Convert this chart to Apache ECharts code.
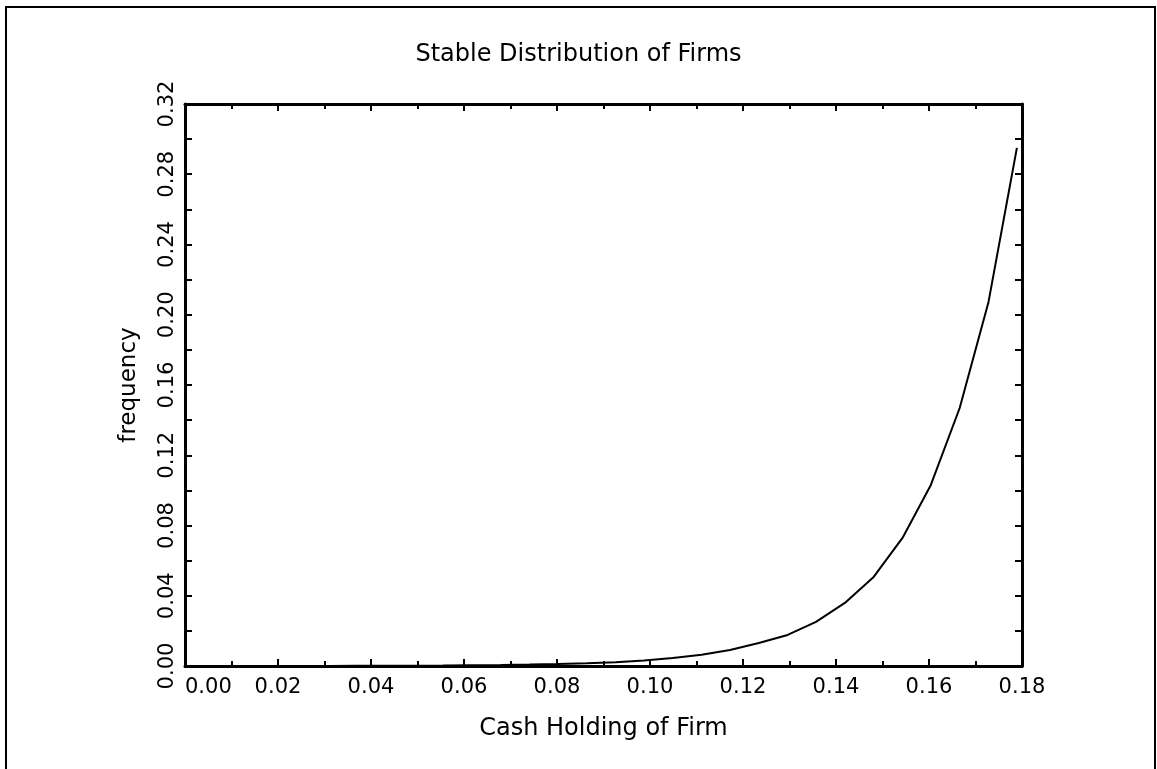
<!DOCTYPE html>
<html>
<head>
<meta charset="utf-8">
<style>
  html, body { margin: 0; padding: 0; background: #fff; }
  #chart { width: 1157px; height: 769px; }
</style>
<script src="https://cdn.jsdelivr.net/npm/echarts@6/dist/echarts.min.js"></script>
</head>
<body>
<div id="chart"></div>
<script>
  // cash holding grid (x) and stable frequency (y)
  var cashHolding = [0, 0.0062, 0.0123, 0.0185, 0.0247, 0.0309, 0.0370, 0.0432, 0.0494, 0.0555,
    0.0617, 0.0679, 0.0741, 0.0802, 0.0864, 0.0926, 0.0987, 0.1049, 0.1111, 0.1172,
    0.1234, 0.1296, 0.1357, 0.1419, 0.1481, 0.1543, 0.1604, 0.1666, 0.1728, 0.1789]
  var frequency = [0.00001, 0.00002, 0.00002, 0.00003, 0.00005, 0.00007, 0.0001, 0.00013, 0.0002, 0.00027,
    0.0004, 0.00055, 0.0008, 0.0011, 0.0016, 0.0022, 0.0032, 0.0045, 0.0064, 0.0091,
    0.0131, 0.0177, 0.0251, 0.0359, 0.0507, 0.0729, 0.1031, 0.1469, 0.2073, 0.295]

  var FONT = 'DejaVu Sans'
  var lineData = cashHolding.map(function(x, i) { return [x, frequency[i]] })

  function xAxisCfg(top) {
    return {
      type: 'value',
      position: top ? 'top' : 'bottom',
      min: 0,
      max: 0.18,
      interval: 0.02,
      axisLine: { show: true, onZero: false, lineStyle: { color: '#000', width: 3 } },
      axisTick: { show: true, inside: true, length: 7, lineStyle: { color: '#000', width: 2 } },
      minorTick: { show: true, splitNumber: 2, length: 5, lineStyle: { color: '#000', width: 2 } },
      splitLine: { show: false },
      axisLabel: {
        show: !top,
        margin: 11,
        color: '#000',
        fontFamily: FONT,
        fontSize: 21,
        alignMinLabel: 'left',
        formatter: function(v) { return v.toFixed(2) }
      },
      name: top ? '' : 'Cash Holding of Firm',
      nameLocation: 'middle',
      nameGap: 51,
      nameTextStyle: { color: '#000', fontFamily: FONT, fontSize: 24 }
    }
  }

  function yAxisCfg(right) {
    return {
      type: 'value',
      position: right ? 'right' : 'left',
      min: 0,
      max: 0.32,
      interval: 0.04,
      axisLine: { show: true, onZero: false, lineStyle: { color: '#000', width: 3 } },
      axisTick: { show: true, inside: true, length: 7, lineStyle: { color: '#000', width: 2 } },
      minorTick: { show: true, splitNumber: 2, length: 7, lineStyle: { color: '#000', width: 2 } },
      splitLine: { show: false },
      axisLabel: {
        show: !right,
        rotate: 90,
        margin: 7,
        color: '#000',
        fontFamily: FONT,
        fontSize: 21,
        formatter: function(v) { return v.toFixed(2) }
      },
      name: right ? '' : 'frequency',
      nameLocation: 'middle',
      nameRotate: 90,
      nameGap: 44,
      nameTextStyle: { color: '#000', fontFamily: FONT, fontSize: 23 }
    }
  }

  var chart = echarts.init(document.getElementById('chart'))
  chart.setOption({
    backgroundColor: '#fff',
    animation: false,
    title: {
      text: 'Stable Distribution of Firms',
      left: 'center',
      top: 38,
      textStyle: { color: '#000', fontFamily: FONT, fontSize: 24, fontWeight: 'normal' }
    },
    graphic: [{
      type: 'rect',
      shape: { x: 6, y: 7, width: 1149, height: 780 },
      style: { fill: null, stroke: '#000', lineWidth: 2 },
      silent: true
    }],
    grid: { left: 185, right: 135, top: 104, bottom: 103, containLabel: false },
    xAxis: [xAxisCfg(false), xAxisCfg(true)],
    yAxis: [yAxisCfg(false), yAxisCfg(true)],
    series: [{
      type: 'line',
      data: lineData,
      showSymbol: false,
      symbol: 'none',
      lineStyle: { color: '#000', width: 2 },
      clip: false
    }]
  })
</script>
</body>
</html>
